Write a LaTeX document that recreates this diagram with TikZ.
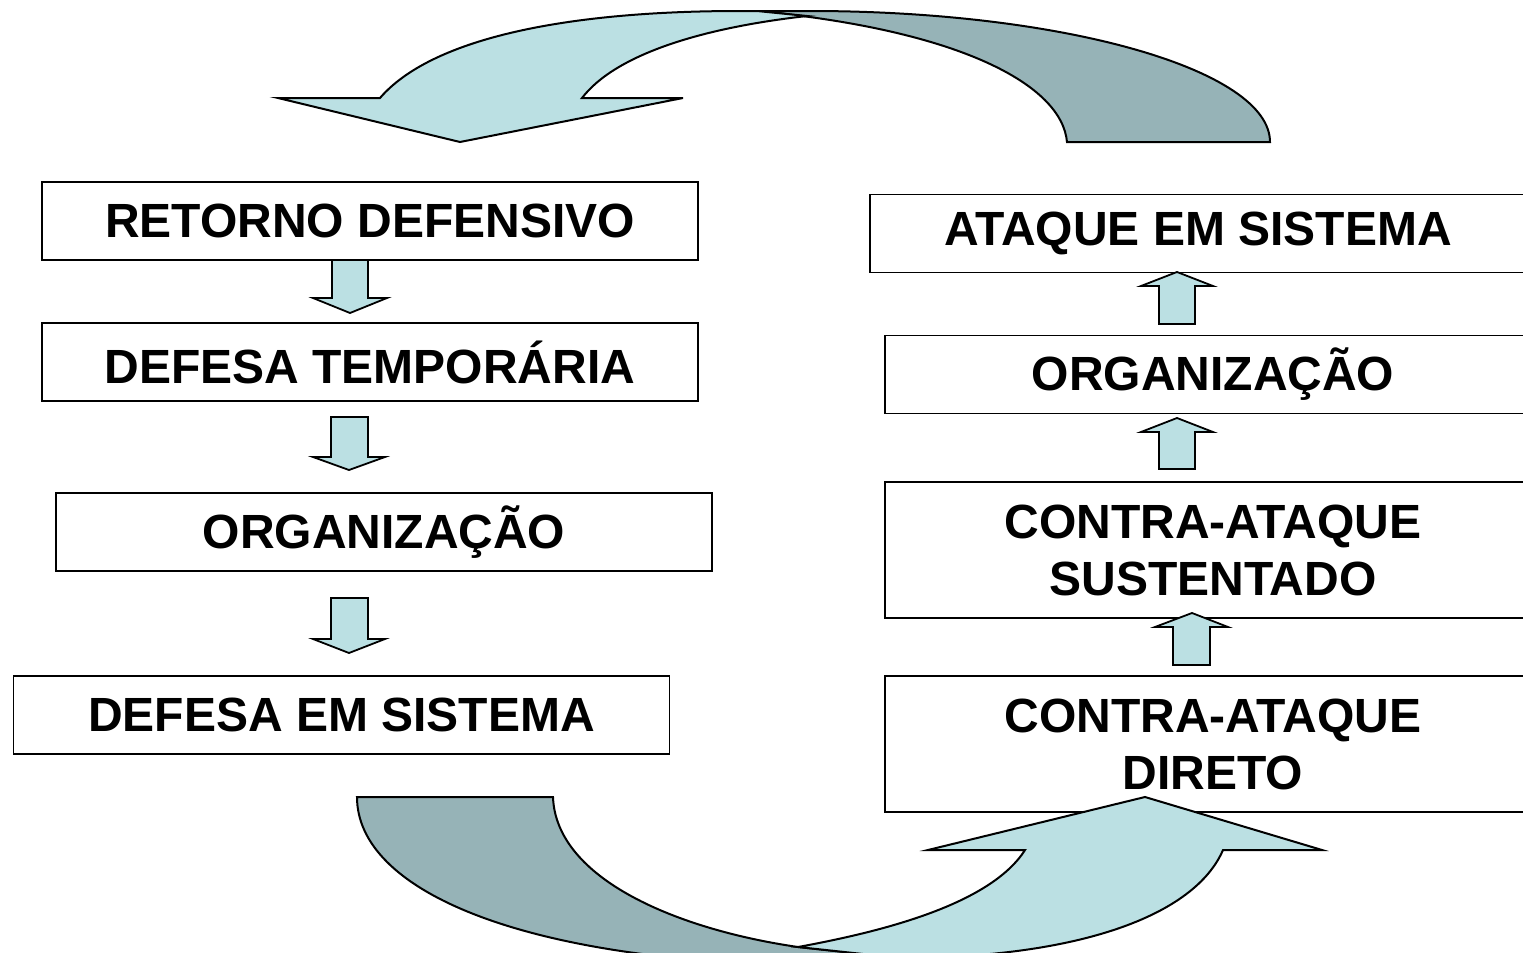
\documentclass[tikz,border=0pt]{standalone}
\usepackage{fontspec}
\setmainfont{Liberation Sans}
\usetikzlibrary{positioning}

\definecolor{arrowlight}{RGB}{187,224,227}
\definecolor{arrowdark}{RGB}{150,179,183}

\begin{document}
\begin{tikzpicture}[x=0.5pt,y=-0.5pt,
        phase/.style={draw,line width=0.75pt,minimum width=328pt,minimum height=39pt,
            inner sep=0pt,align=center,font=\fontsize{24}{28.5}\selectfont\bfseries},
        tall phase/.style={phase,minimum height=68pt},
        block/.style={draw,line width=0.9pt,fill=arrowlight,line join=miter},
        swoop front/.style={draw,line width=1pt,fill=arrowlight,line join=miter},
        swoop back/.style={draw,line width=1pt,fill=arrowdark,line join=miter}]
        \useasboundingbox (0,0) rectangle (1523,953);
        \clip (0,0) rectangle (1523,953);

        % defensive phases
        \node[phase] (retorno) at (370,221) {RETORNO DEFENSIVO};
        \node[phase] (temporaria) at (370,362) {DEFESA TEMPORÁRIA};
        \node[phase] (orgdefesa) at (384,532) {ORGANIZAÇÃO};
        \node[phase] (defsistema) at (341.5,715) {DEFESA EM SISTEMA};

        % attacking phases
        \node[phase] (atqsistema) at (1198,233.5) {ATAQUE EM SISTEMA};
        \node[phase] (orgataque) at (1213,374.5) {ORGANIZAÇÃO};
        \node[tall phase] (sustentado) at (1213,550) {CONTRA-ATAQUE\\SUSTENTADO};
        \node[tall phase] (direto) at (1213,744) {CONTRA-ATAQUE\\DIRETO};

        % block arrows down
        \draw[block] (332,260) -- (368,260) -- (368,298) -- (387,298) -- (350,313) -- (313,298) -- (332,298) -- cycle;
        \draw[block] (331,417) -- (368,417) -- (368,457) -- (385,457) -- (349,470) -- (313,457) -- (331,457) -- cycle;
        \draw[block] (331,598) -- (368,598) -- (368,639) -- (385,639) -- (349,653) -- (313,639) -- (331,639) -- cycle;

        % block arrows up
        \draw[block] (1159,324) -- (1195,324) -- (1195,286) -- (1213,286) -- (1177,272) -- (1141,286) -- (1159,286) -- cycle;
        \draw[block] (1159,469) -- (1195,469) -- (1195,432) -- (1213,432) -- (1177,418) -- (1141,432) -- (1159,432) -- cycle;
        \draw[block] (1173,665) -- (1210,665) -- (1210,627) -- (1228,627) -- (1192,613) -- (1155,627) -- (1173,627) -- cycle;

        % top swoop
        \draw[swoop back] (1067,142) .. controls (1062,85) and (960,30) .. (757,11) -- (810,11)
            .. controls (1064,11) and (1270,70) .. (1270,142) -- cycle;
        \draw[swoop front] (278,98) -- (380,98) .. controls (430,40) and (560,11) .. (740,11) -- (757,11)
            -- (807,16) .. controls (700,28) and (615,55) .. (582,98) -- (683,98) -- (460,142) -- cycle;

        % bottom swoop
        \draw[swoop back] (357,797) -- (553,797) .. controls (556,880) and (680,930) .. (798,947)
            -- (900,958) -- (900,965) -- (800,965) .. controls (520,960) and (357,890) .. (357,797) -- cycle;
        \draw[swoop front] (1025,850) -- (928,850) -- (1145,797) -- (1322,850) -- (1223,850)
            .. controls (1195,915) and (1080,958) .. (900,958) -- (798,947)
            .. controls (880,932) and (990,905) .. (1025,850) -- cycle;
\end{tikzpicture}
\end{document}
